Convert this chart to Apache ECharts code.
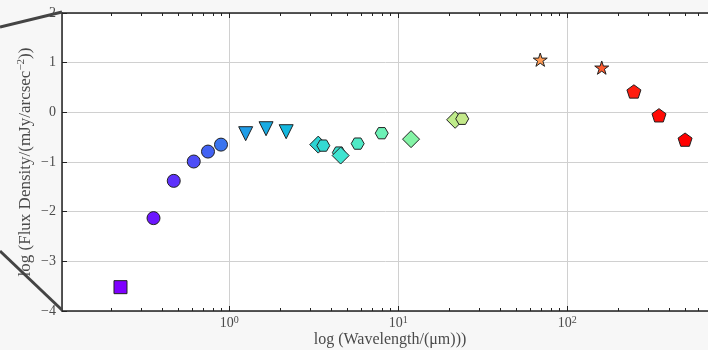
<!DOCTYPE html>
<html><head><meta charset="utf-8">
<script src="https://cdn.jsdelivr.net/npm/echarts@6/dist/echarts.min.js"></script>
<style>html,body{margin:0;padding:0;background:#f7f7f7}#c{width:708px;height:350px}</style>
</head><body><div id="c"></div>
<script>
// ---- data (wavelength in micron, log flux density) ----
const galexWave = [0.227];
const galexFlux = [-3.52];
const sdssWave = [0.356, 0.469, 0.616, 0.748, 0.893];
const sdssFlux = [-2.13, -1.38, -0.99, -0.79, -0.65];
const tmassWave = [1.25, 1.65, 2.17];
const tmassFlux = [-0.43, -0.33, -0.39];
const wiseWave = [3.36, 4.56, 11.9, 21.7];
const wiseFlux = [-0.65, -0.87, -0.54, -0.15];
const iracWave = [3.6, 4.45, 5.75, 7.98];
const iracFlux = [-0.67, -0.81, -0.63, -0.42];
const mipsWave = [23.9];
const mipsFlux = [-0.13];
const pacsWave = [69.2, 160];
const pacsFlux = [1.06, 0.90];
const spireWave = [248, 349, 498];
const spireFlux = [0.42, -0.06, -0.55];
const xMajorTicks = [1, 10, 100];
const yTickValues = [-4, -3, -2, -1, 0, 1, 2];
const xMin = 0.1023, xMax = 780;

// ---- styles ----
const galexColors = ['#7f00ff'];
const sdssColors = ['#6c16ff', '#5e31fc', '#4e4df7', '#4262f3', '#3a74ef'];
const tmassColors = ['#1f9de8', '#19abe2', '#13b8df'];
const wiseColors = ['#2cd3d3', '#3fe4d1', '#84f4a6', '#bfec8b'];
const iracColors = ['#33d9d3', '#3be1d0', '#4fe9c6', '#6cf1b6'];
const mipsColors = ['#c4e98a'];
const pacsColors = ['#ff9b55', '#ff5a2e'];
const spireColors = ['#ff1c0e', '#ff0b05', '#ff0000'];

function polyPath(n, rOuter, rInner, rot) {
  const pts = [];
  const m = rInner ? 2 * n : n;
  for (let k = 0; k < m; k++) {
    const r = (rInner && k % 2 === 1) ? rInner : rOuter;
    const a = (rot + k * 360 / m) * Math.PI / 180;
    pts.push((50 + r * Math.cos(a)).toFixed(2) + ' ' + (50 + r * Math.sin(a)).toFixed(2));
  }
  return 'path://M' + pts.join(' L') + ' Z';
}
const hexSym = polyPath(6, 50, 0, 0);
const starSym = polyPath(5, 50, 19.1, -90);
const pentSym = polyPath(5, 50, 0, -90);

const minorTicks = [];
[0.1, 1, 10, 100].forEach(d => { for (let k = 2; k <= 9; k++) minorTicks.push(Math.log10(d * k)); });
const lmin = Math.log10(xMin), lmax = Math.log10(xMax);

function mk(name, wave, flux, colors, symbol, size, extra) {
  return Object.assign({
    name, type: 'scatter', xAxisIndex: 0, yAxisIndex: 0,
    symbol, symbolSize: size, symbolKeepAspect: true,
    data: wave.map((w, i) => ({ value: [w, flux[i]], itemStyle: { color: colors[i] } })),
    itemStyle: { borderColor: '#222', borderWidth: 1, opacity: 1 },
    emphasis: { disabled: true }
  }, extra || {});
}

const font = 'Liberation Serif';
const txt = '#4a4a4a';
const axisLineStyle = { show: true, onZero: false, lineStyle: { color: '#222', width: 1.5 } };
const chart = echarts.init(document.getElementById('c'), null, { renderer: 'canvas' });
chart.setOption({
  backgroundColor: '#f7f7f7',
  animation: false,
  grid: { left: 62, top: 13, right: -10, bottom: 39, show: true, backgroundColor: '#ffffff', borderWidth: 0, containLabel: false, outerBoundsMode: 'none' },
  graphic: [
    { type: 'line', shape: { x1: 0, y1: 27, x2: 62, y2: 12 }, style: { stroke: '#444', lineWidth: 3 }, z: 100 },
    { type: 'line', shape: { x1: 0, y1: 251, x2: 62, y2: 310 }, style: { stroke: '#444', lineWidth: 3 }, z: 100 }
  ],
  xAxis: [
    {
      type: 'log', position: 'bottom', min: xMin, max: xMax, logBase: 10,
      name: 'log (Wavelength/(\u03bcm)))', nameLocation: 'middle', nameGap: 21, nameMoveOverlap: false,
      nameTextStyle: { fontFamily: font, fontSize: 16, color: txt, verticalAlign: 'top' },
      axisLine: axisLineStyle,
      axisTick: { show: true, inside: true, length: 5, lineStyle: { color: '#222', width: 1 } },
      axisLabel: {
        fontFamily: font, fontSize: 14, color: txt, margin: 4,
        showMinLabel: false, showMaxLabel: false,
        formatter: v => {
          const e = Math.log10(v);
          const r = Math.round(e);
          if (Math.abs(e - r) < 1e-6 && xMajorTicks.some(t => Math.abs(Math.log10(t) - r) < 1e-9)) return '{b|10}{s|' + r + '}';
          return '';
        },
        rich: {
          b: { fontFamily: font, fontSize: 14, color: txt, lineHeight: 17 },
          s: { fontFamily: font, fontSize: 10, color: txt, lineHeight: 17, verticalAlign: 'top' }
        }
      },
      splitLine: { show: true, lineStyle: { color: '#d0d0d0', width: 1 } }
    },
    {
      type: 'value', position: 'top', min: lmin, max: lmax,
      axisLine: axisLineStyle,
      axisTick: { show: true, inside: true, length: 5, customValues: xMajorTicks.map(Math.log10), lineStyle: { color: '#222', width: 1 } },
      axisLabel: { show: false }, splitLine: { show: false }
    },
    {
      type: 'value', position: 'bottom', min: lmin, max: lmax,
      axisLine: { show: false, onZero: false },
      axisTick: { show: true, inside: true, length: 3, customValues: minorTicks, lineStyle: { color: '#222', width: 1 } },
      axisLabel: { show: false }, splitLine: { show: false }
    },
    {
      type: 'value', position: 'top', min: lmin, max: lmax,
      axisLine: { show: false, onZero: false },
      axisTick: { show: true, inside: true, length: 3, customValues: minorTicks, lineStyle: { color: '#222', width: 1 } },
      axisLabel: { show: false }, splitLine: { show: false }
    }
  ],
  yAxis: [
    {
      type: 'value', position: 'left', min: yTickValues[0], max: yTickValues[yTickValues.length - 1], interval: 1,
      name: '{t|log (Flux Density/(mJy/arcsec}{s|\u22122}{t|))}', nameLocation: 'middle', nameGap: 26, nameRotate: 90, nameMoveOverlap: false,
      nameTextStyle: {
        fontFamily: font, fontSize: 17, color: txt,
        rich: {
          t: { fontFamily: font, fontSize: 17, color: txt, lineHeight: 20 },
          s: { fontFamily: font, fontSize: 11, color: txt, lineHeight: 20, verticalAlign: 'top' }
        }
      },
      axisLine: axisLineStyle,
      axisTick: { show: true, inside: true, length: 5, lineStyle: { color: '#222', width: 1 } },
      axisLabel: { fontFamily: font, fontSize: 14, color: txt, margin: 6, formatter: v => String(v).replace('-', '\u2212') },
      splitLine: { show: true, lineStyle: { color: '#d0d0d0', width: 1 } }
    }
  ],
  series: [
    mk('GALEX', galexWave, galexFlux, galexColors, 'rect', 13),
    mk('SDSS', sdssWave, sdssFlux, sdssColors, 'circle', 13),
    mk('2MASS', tmassWave, tmassFlux, tmassColors, 'triangle', 14, { symbolRotate: 180 }),
    mk('IRAC4.5', [iracWave[1]], [iracFlux[1]], [iracColors[1]], hexSym, 13),
    mk('WISE', wiseWave, wiseFlux, wiseColors, 'diamond', 17),
    mk('IRAC', [iracWave[0], iracWave[2], iracWave[3]], [iracFlux[0], iracFlux[2], iracFlux[3]], [iracColors[0], iracColors[2], iracColors[3]], hexSym, 13),
    mk('MIPS', mipsWave, mipsFlux, mipsColors, hexSym, 13),
    mk('PACS', pacsWave, pacsFlux, pacsColors, starSym, 14),
    mk('SPIRE', spireWave, spireFlux, spireColors, pentSym, 14)
  ]
});
</script></body></html>
